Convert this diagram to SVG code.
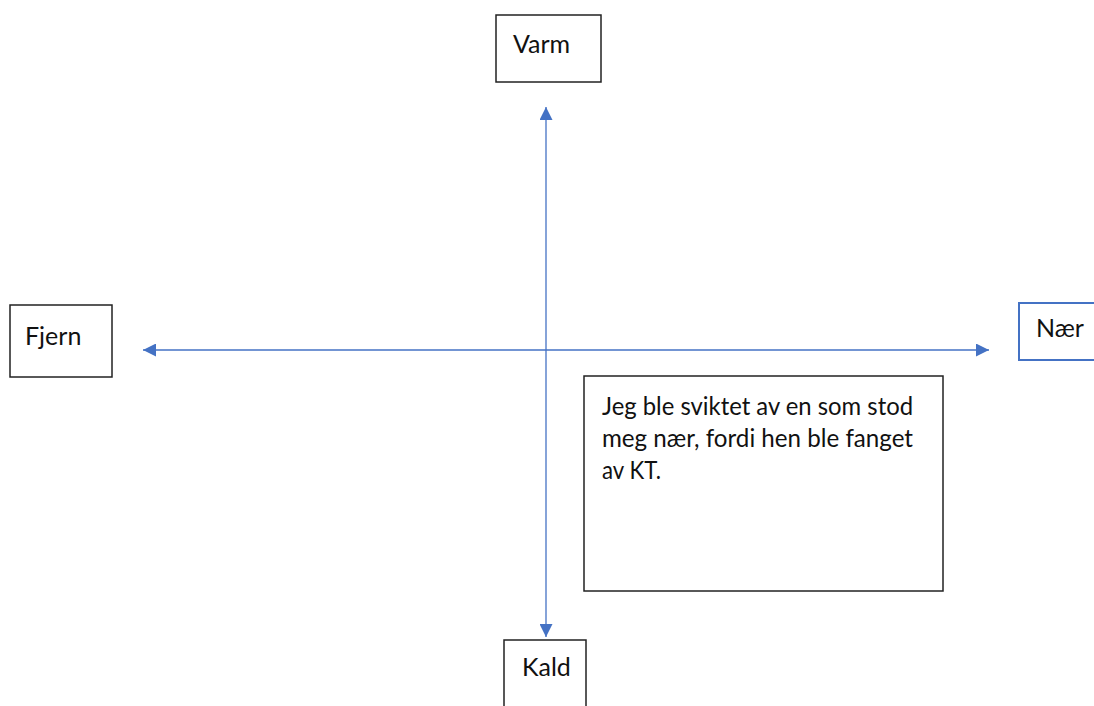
<svg xmlns="http://www.w3.org/2000/svg" width="1094" height="706" viewBox="0 0 1094 706">
<style>
text{font-family:Lato,"Open Sans","Liberation Sans",sans-serif;font-size:25px;fill:#111}
.nt{font-size:24.5px}
.box{fill:#fff;stroke:#222;stroke-width:1.5}
.blue{fill:#fff;stroke:#4472c4;stroke-width:2}
.ax{stroke:#4472c4;stroke-width:1.3;fill:none}
</style>
<defs>
<marker id="ah" viewBox="0 0 10 10" refX="10" refY="5" markerWidth="13" markerHeight="13" markerUnits="userSpaceOnUse" orient="auto-start-reverse">
<path d="M0,0 L10,5 L0,10 z" fill="#4472c4"/>
</marker>
</defs>
<rect width="1094" height="706" fill="#fff"/>
<g id="connectors">
<line class="ax" x1="546" y1="107" x2="546" y2="637" marker-start="url(#ah)" marker-end="url(#ah)"/>
<line class="ax" x1="143" y1="350" x2="989" y2="350" marker-start="url(#ah)" marker-end="url(#ah)"/>
</g>
<g id="varm"><rect class="box" x="496" y="15" width="105" height="67"/><text x="513" y="53">Varm</text></g>
<g id="fjern"><rect class="box" x="10" y="305" width="102" height="72"/><text x="25" y="345">Fjern</text></g>
<g id="naer"><rect class="blue" x="1019" y="303" width="80" height="57"/><text x="1036" y="337">Nær</text></g>
<g id="kald"><rect class="box" x="504" y="640" width="82" height="80"/><text x="522" y="676">Kald</text></g>
<g id="note"><rect class="box" x="584" y="376" width="359" height="215"/>
<text class="nt" x="602" y="415" textLength="311" lengthAdjust="spacingAndGlyphs">Jeg ble sviktet av en som stod</text>
<text class="nt" x="602" y="447" textLength="311" lengthAdjust="spacingAndGlyphs">meg nær, fordi hen ble fanget</text>
<text class="nt" x="602" y="479" textLength="59" lengthAdjust="spacingAndGlyphs">av KT.</text></g>
</svg>
